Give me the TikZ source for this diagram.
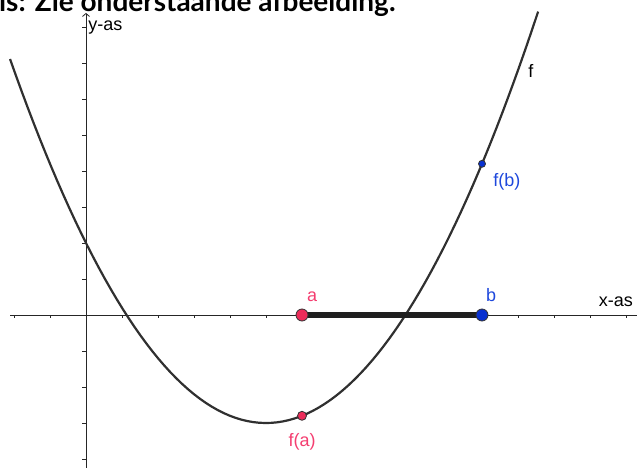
\documentclass[tikz,border=0pt]{standalone}
\usepackage{fontspec}
\setsansfont{Liberation Sans}
\newfontfamily\headfont{Lato}
\usetikzlibrary{arrows.meta}
\definecolor{ptred}{RGB}{236,44,90}
\definecolor{lblred}{RGB}{244,62,112}
\definecolor{ptblue}{RGB}{8,48,208}
\definecolor{lblblue}{RGB}{30,72,220}
\definecolor{curvegray}{RGB}{48,48,48}
\tikzset{
  pt/.style={circle,draw=black!80,line width=0.8bp,inner sep=0pt},
  lbl/.style={inner sep=0pt}
}

\begin{document}
\begin{tikzpicture}[x=36bp,y=36bp,font=\sffamily\fontsize{18bp}{20bp}\selectfont,>=latex]
   % Frame of the screenshot
   \useasboundingbox (-2.3889,-4.25) rectangle (15.3056,8.75);
   \clip (-2.3889,-4.25) rectangle (15.3056,8.75);
   % Heading text (cut off at the top)
   \node [anchor=base west,inner sep=0pt,font=\headfont\bfseries\fontsize{28bp}{30bp}\selectfont] (head) at (-2.42,8.43) {is: Zie onderstaande afbeelding.};
   % Axes
   \draw [line width=0.8bp,black!85] (-2.11,0) -- (15.31,0);
   \draw [line width=0.8bp,black!85,-{Straight Barb[length=3bp,width=7bp]}] (0,-4.25) -- (0,8.39);
   % Ticks
   \foreach \i in {-2,...,15} \draw [line width=0.7bp,black!85] (\i,0) -- ++(0bp,-3bp);
   \foreach \j in {-4,...,8} \draw [line width=0.7bp,black!85] (0,\j) -- ++(-4bp,0bp);
   \node [lbl,anchor=west] (yas) at (0.06,7.99) {y-as};
   \node [lbl] (xas) at (14.72,0.36) {x-as};
   % Graph of f
   \draw [curvegray,line width=2.2bp,domain=-2.11:12.56,samples=90] plot (\x,{0.2*\x*\x-2*\x+2});
   \node [lbl] (f) at (12.36,6.78) {f};
   % Interval from a to b
   \coordinate (A) at (6,0);
   \coordinate (B) at (11,0);
   \draw [line width=5.5bp,black!88] (A) -- (B);
   \node [pt,fill=ptred,minimum size=12bp] (a) at (A) {};
   \node [pt,fill=ptblue,minimum size=12bp] (b) at (B) {};
   \node [lbl,text=lblred] (la) at (6.28,0.52) {a};
   \node [lbl,text=lblblue] (lb) at (11.25,0.55) {b};
   % Function values
   \node [pt,fill=ptred,minimum size=9bp] (fa) at (6,-2.8) {};
   \node [pt,fill=ptblue,minimum size=7bp] (fb) at (11,4.2) {};
   \node [lbl,text=lblred] (lfa) at (6,-3.52) {f(a)};
   \node [lbl,text=lblblue] (lfb) at (11.69,3.69) {f(b)};
\end{tikzpicture}
\end{document}
